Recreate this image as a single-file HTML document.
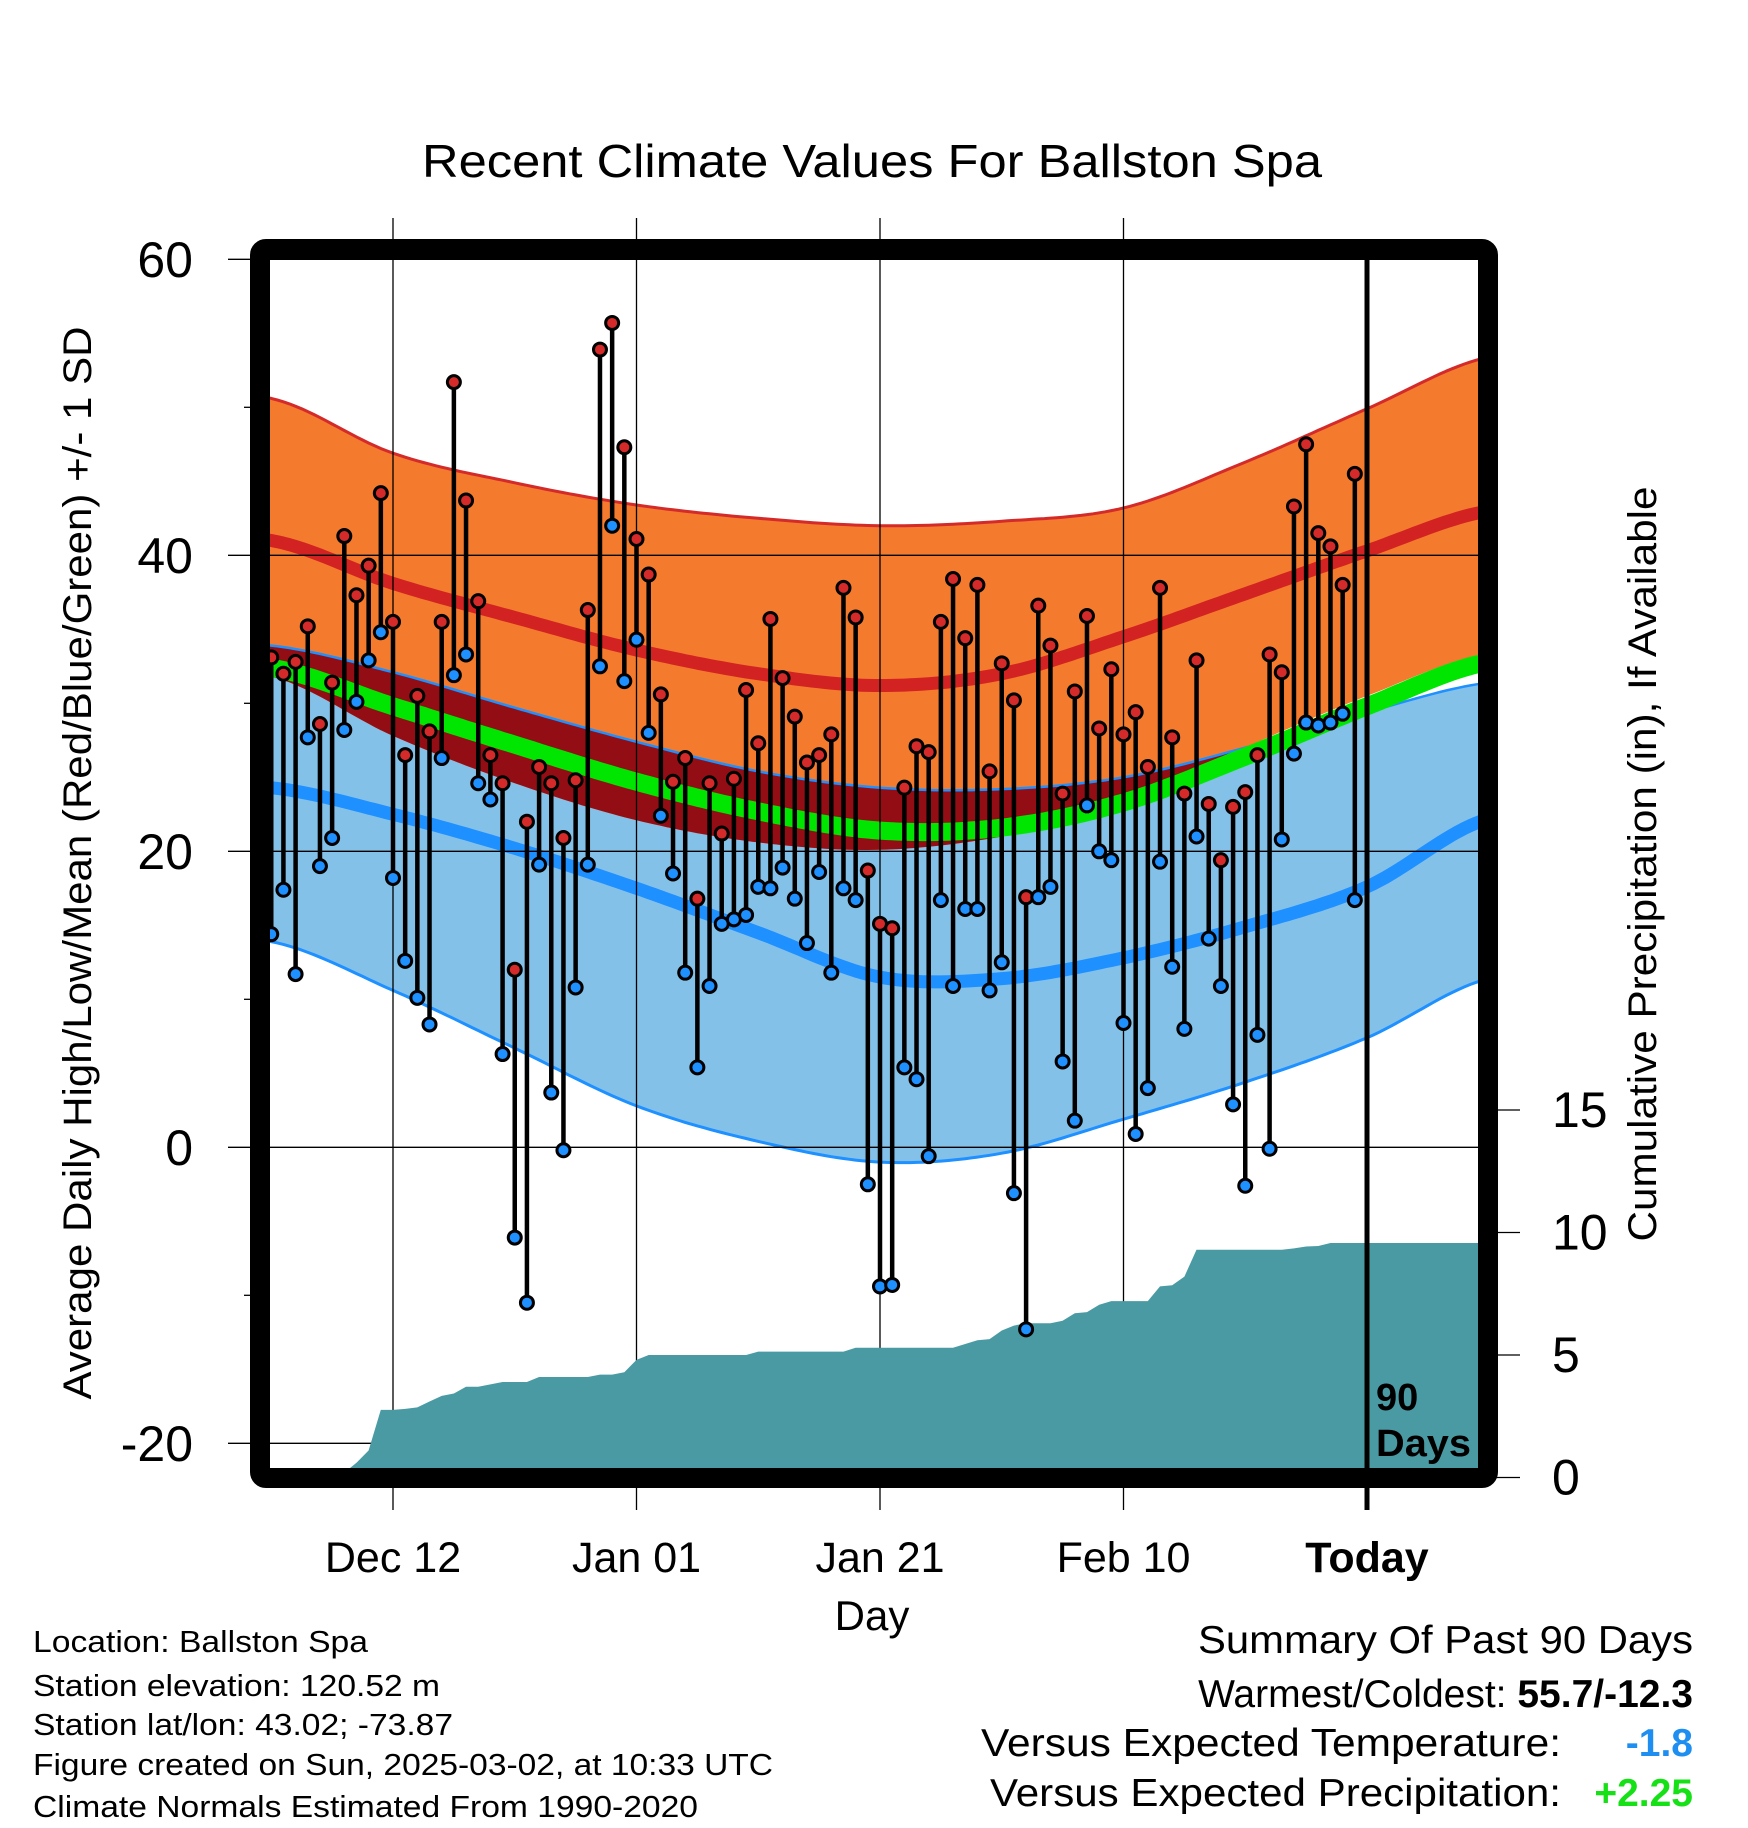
<!DOCTYPE html>
<html><head><meta charset="utf-8"><style>
html,body{margin:0;padding:0;background:#fff;}
svg{display:block;font-family:"Liberation Sans",Arial,sans-serif;}
</style></head><body>
<svg id="chart" width="1748" height="1828" viewBox="0 0 1748 1828" xmlns="http://www.w3.org/2000/svg">
<defs><clipPath id="plotclip"><rect x="270" y="259" width="1208" height="1209"/></clipPath></defs>
<g id="bands" clip-path="url(#plotclip)"></g>
<g id="grid"></g>
<g id="precip" clip-path="url(#plotclip)"></g>
<g id="marks"></g>
<rect x="260" y="249" width="1228" height="1229" rx="6" fill="none" stroke="#000" stroke-width="20"/>
<g id="axes"></g>
<text x="872" y="177" font-size="46" text-anchor="middle" textLength="900" lengthAdjust="spacingAndGlyphs">Recent Climate Values For Ballston Spa</text>
<text transform="translate(91,863) rotate(-90)" font-size="40" text-anchor="middle" textLength="1073" lengthAdjust="spacingAndGlyphs">Average Daily High/Low/Mean (Red/Blue/Green) +/- 1 SD</text>
<text transform="translate(1656,864) rotate(-90)" font-size="40" text-anchor="middle" textLength="755" lengthAdjust="spacingAndGlyphs">Cumulative Precipitation (in), If Available</text>
<text x="872" y="1630" font-size="42" text-anchor="middle">Day</text>
<text x="1376" y="1410" font-size="38" font-weight="bold">90</text>
<text x="1376" y="1456" font-size="38" font-weight="bold" textLength="95" lengthAdjust="spacingAndGlyphs">Days</text>
<g font-size="31">
<text x="33" y="1652" textLength="335" lengthAdjust="spacingAndGlyphs">Location: Ballston Spa</text>
<text x="33" y="1696" textLength="407" lengthAdjust="spacingAndGlyphs">Station elevation: 120.52 m</text>
<text x="33" y="1735" textLength="420" lengthAdjust="spacingAndGlyphs">Station lat/lon: 43.02; -73.87</text>
<text x="33" y="1775" textLength="740" lengthAdjust="spacingAndGlyphs">Figure created on Sun, 2025-03-02, at 10:33 UTC</text>
<text x="33" y="1817" textLength="665" lengthAdjust="spacingAndGlyphs">Climate Normals Estimated From 1990-2020</text>
</g>
<g font-size="39">
<text x="1693" y="1653" text-anchor="end" textLength="495" lengthAdjust="spacingAndGlyphs">Summary Of Past 90 Days</text>
<text x="1693" y="1707" text-anchor="end">Warmest/Coldest: <tspan font-weight="bold">55.7/-12.3</tspan></text>
<text x="1561" y="1756" text-anchor="end" textLength="580" lengthAdjust="spacingAndGlyphs">Versus Expected Temperature:</text>
<text x="1693" y="1756" text-anchor="end" font-weight="bold" fill="#1e8ff0">-1.8</text>
<text x="1561" y="1806" text-anchor="end" textLength="571" lengthAdjust="spacingAndGlyphs">Versus Expected Precipitation:</text>
<text x="1693" y="1806" text-anchor="end" font-weight="bold" fill="#16e016">+2.25</text>
</g>
</svg>
<script>
// normals at t = -90..10 step 10 (days relative to today)
const normT = [-90,-80,-70,-60,-50,-40,-30,-20,-10,0,10];
const highUpper = [50.6,46.9,44.9,43.4,42.5,42.0,42.3,43.2,46.3,49.9,53.4];
const normHigh = [41.0,38.1,35.8,33.6,32.0,31.2,32.0,34.5,37.4,40.3,43.0];
const highLower = [31.8,27.8,24.6,22.1,20.6,20.1,21.0,23.0,27.0,30.5,33.4];
const lowUpper = [33.9,32.1,29.7,27.4,25.4,24.3,24.2,25.0,27.0,29.4,31.4];
const normMean = [32.4,29.8,27.2,24.7,22.7,21.4,21.6,23.3,26.4,29.8,32.8];
const normLow = [24.3,22.5,20.2,17.5,14.5,11.5,11.4,12.8,14.9,17.6,22.2];
const lowLower = [13.9,10.6,6.7,2.8,0.4,-1.0,-0.4,1.9,4.4,7.4,11.4];
// daily observations, Dec 02 .. Mar 01
const highs = [33.1,32.0,32.8,35.2,28.6,31.4,41.3,37.3,39.3,44.2,35.5,26.5,30.5,28.1,35.5,51.7,43.7,36.9,26.5,24.6,12.0,22.0,25.7,24.6,20.9,24.8,36.3,53.9,55.7,47.3,41.1,38.7,30.6,24.7,26.3,16.8,24.6,21.2,24.9,30.9,27.3,35.7,31.7,29.1,26.0,26.5,27.9,37.8,35.8,18.7,15.1,14.8,24.3,27.1,26.7,35.5,38.4,34.4,38.0,25.4,32.7,30.2,16.9,36.6,33.9,23.9,30.8,35.9,28.3,32.3,27.9,29.4,25.7,37.8,27.7,23.9,32.9,23.2,19.4,23.0,24.0,26.5,33.3,32.1,43.3,47.5,41.5,40.6,38.0,45.5];
const lows = [14.4,17.4,11.7,27.7,19.0,20.9,28.2,30.1,32.9,34.8,18.2,12.6,10.1,8.3,26.3,31.9,33.3,24.6,23.5,6.3,-6.1,-10.5,19.1,3.7,-0.2,10.8,19.1,32.5,42.0,31.5,34.3,28.0,22.4,18.5,11.8,5.4,10.9,15.1,15.4,15.7,17.6,17.5,18.9,16.8,13.8,18.6,11.8,17.5,16.7,-2.5,-9.4,-9.3,5.4,4.6,-0.6,16.7,10.9,16.1,16.1,10.6,12.5,-3.1,-12.3,16.9,17.6,5.8,1.8,23.1,20.0,19.4,8.4,0.9,4.0,19.3,12.2,8.0,21.0,14.1,10.9,2.9,-2.6,7.6,-0.1,20.8,26.6,28.7,28.5,28.7,29.3,16.7];
const precipCum = [0,0,0,0,0,0,0.2,0.6,1.1,2.76,2.76,2.8,2.86,3.1,3.33,3.43,3.7,3.7,3.8,3.9,3.9,3.9,4.1,4.1,4.1,4.1,4.1,4.2,4.2,4.3,4.8,5.0,5.0,5.0,5.0,5.0,5.0,5.0,5.0,5.0,5.14,5.14,5.14,5.14,5.14,5.14,5.14,5.14,5.3,5.3,5.3,5.3,5.3,5.3,5.3,5.3,5.3,5.45,5.6,5.65,6.0,6.2,6.3,6.3,6.3,6.4,6.7,6.75,7.05,7.2,7.2,7.2,7.2,7.8,7.85,8.2,9.3,9.3,9.3,9.3,9.3,9.3,9.3,9.3,9.35,9.43,9.45,9.57,9.57,9.57];
const yTicks = [60,40,20,0,-20];
const yMinor = [50,30,10,-10];
const pTicks = [0,5,10,15];
const xTickDays = [-80,-60,-40,-20,0];
const xTickLabels = ['Dec 12','Jan 01','Jan 21','Feb 10','Today'];

const NS='http://www.w3.org/2000/svg';
const xOf = t => 1367 + t*12.175;
const yOf = v => 259.3 + (60-v)*14.8;
const pOf = p => 1477.5 - p*24.5;
function mk(parent, tag, attrs){const e=document.createElementNS(NS,tag);for(const k in attrs)e.setAttribute(k,attrs[k]);parent.appendChild(e);return e;}
function interp(arr,t){
  const u=(t-normT[0])/10; let k=Math.floor(u); if(k<0)k=0; if(k>9)k=9; const f=u-k;
  const p0=arr[Math.max(k-1,0)],p1=arr[k],p2=arr[k+1],p3=arr[Math.min(k+2,10)];
  return 0.5*(2*p1+(-p0+p2)*f+(2*p0-5*p1+4*p2-p3)*f*f+(-p0+3*p1-3*p2+p3)*f*f*f);
}
const ts=[]; for(let t=-92;t<=11;t+=0.5) ts.push(t);
const line = arr => ts.map(t=>xOf(t).toFixed(1)+','+yOf(interp(arr,t)).toFixed(1));
const lineFn = fn => ts.map(t=>xOf(t).toFixed(1)+','+yOf(fn(t)).toFixed(1));
function band(g,topPts,botPts,fill,name){
  const p=mk(g,'polygon',{points:topPts.concat(botPts.slice().reverse()).join(' '),fill:fill});
  
  
}
function pl(g,pts,stroke,w,name){
  const p=mk(g,'polyline',{points:pts.join(' '),fill:'none',stroke:stroke,'stroke-width':w,'stroke-linejoin':'round'});
  
  
}
const bands=document.getElementById('bands');
band(bands,line(lowUpper),line(lowLower),'#84c1e8','low-sd-band');
band(bands,line(highUpper),line(highLower),'#f47a2e','high-sd-band');
band(bands,line(lowUpper),lineFn(t=>Math.min(interp(highLower,t),interp(lowUpper,t))),'#930e14','overlap-band');
pl(bands,line(highUpper),'#d42a2a',3,'high-upper-line');
pl(bands,line(lowUpper),'#1e90ff',2.5,'low-upper-line');
pl(bands,line(lowLower),'#1e90ff',3,'low-lower-line');
pl(bands,line(normMean),'#00e600',18,'normal-mean-line');
pl(bands,line(normHigh),'#d22222',13,'normal-high-line');
pl(bands,line(normLow),'#1e90ff',13,'normal-low-line');

const grid=document.getElementById('grid');
yTicks.forEach(v=>{
  const l=mk(grid,'line',{x1:228,x2:1478,y1:yOf(v),y2:yOf(v),stroke:'#000','stroke-width':1.3});
  
  
});
xTickDays.forEach(d=>{
  if(d===0) return;
  const l=mk(grid,'line',{x1:xOf(d),x2:xOf(d),y1:218,y2:1510,stroke:'#000','stroke-width':1.3});
  
  
});

const pg=document.getElementById('precip');
let start=precipCum.findIndex(v=>v>0)-1;
let pts=[xOf(start-90).toFixed(1)+','+pOf(0).toFixed(1)];
for(let i=start;i<precipCum.length;i++) pts.push(xOf(i-90).toFixed(1)+','+pOf(precipCum[i]).toFixed(1));
pts.push('1480,'+pOf(precipCum[precipCum.length-1]).toFixed(1));
pts.push('1480,1480');
pts.push(xOf(start-90).toFixed(1)+',1480');
const pa=mk(pg,'polygon',{points:pts.join(' '),fill:'#4a9aa4'});



const marks=document.getElementById('marks');
const tl=mk(marks,'line',{x1:xOf(0),x2:xOf(0),y1:250,y2:1510,stroke:'#000','stroke-width':5});


for(let i=0;i<highs.length;i++){
  const x=xOf(i-90);
  const s=mk(marks,'line',{x1:x,x2:x,y1:yOf(highs[i]),y2:yOf(lows[i]),stroke:'#000','stroke-width':4.5});
  
  
}
for(let i=0;i<highs.length;i++){
  const x=xOf(i-90);
  const c1=mk(marks,'circle',{cx:x,cy:yOf(lows[i]),r:6.5,fill:'#1e90ff',stroke:'#000','stroke-width':3});
  
  
  const c2=mk(marks,'circle',{cx:x,cy:yOf(highs[i]),r:6.5,fill:'#d42a2a',stroke:'#000','stroke-width':3});
  
  
}

const axes=document.getElementById('axes');
yTicks.forEach(v=>{
  const t=mk(axes,'text',{x:193,y:yOf(v)+17.5,'font-size':50,'text-anchor':'end'});
  t.textContent=String(v);
  
  
});
yMinor.forEach(v=>{
  const l=mk(axes,'line',{x1:244,x2:252,y1:yOf(v),y2:yOf(v),stroke:'#000','stroke-width':1.3});
  
  
});
pTicks.forEach(p=>{
  const l=mk(axes,'line',{x1:1496,x2:1520,y1:pOf(p),y2:pOf(p),stroke:'#000','stroke-width':1.3});
  
  
  const t=mk(axes,'text',{x:1552,y:pOf(p)+17,'font-size':50});
  t.textContent=String(p);
  
  
});
xTickDays.forEach((d,i)=>{
  const t=mk(axes,'text',{x:xOf(d),y:1572,'font-size':43,'text-anchor':'middle'});
  if(d===0) t.setAttribute('font-weight','bold');
  t.textContent=xTickLabels[i];
  
  
});
</script>
</body></html>
